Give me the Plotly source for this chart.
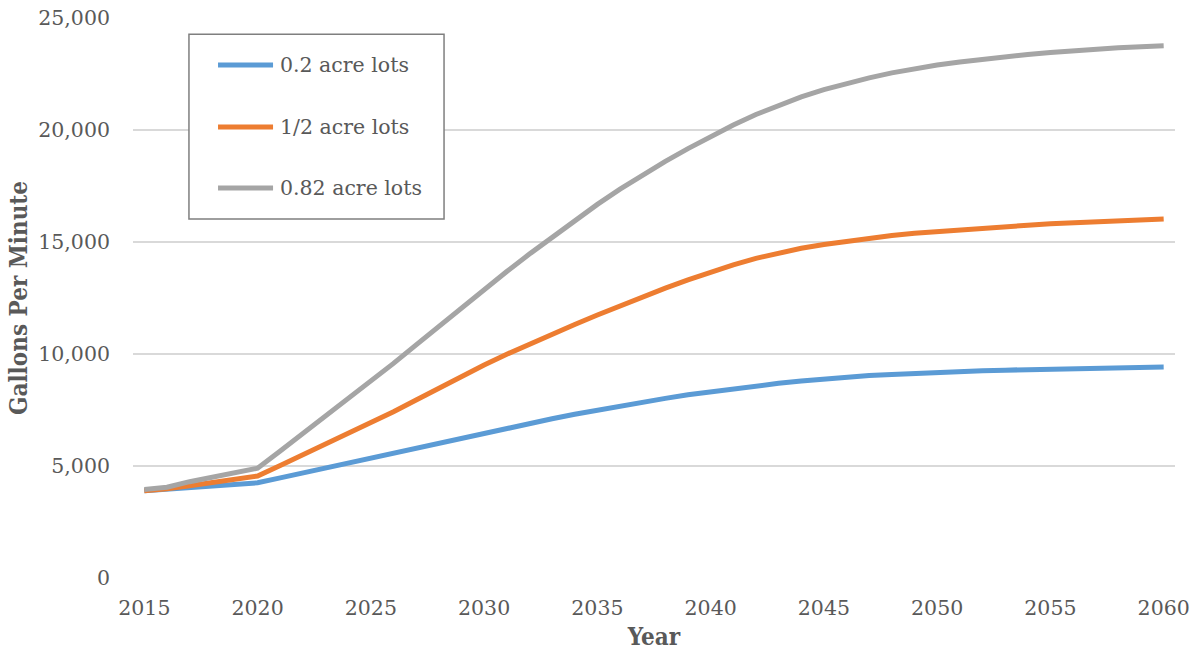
import plotly.graph_objects as go

# Projected demand, gallons per minute, by year
years = list(range(2015, 2061))

lots_02 = [3900, 3970, 4040, 4110, 4180, 4250, 4470, 4690, 4910, 5140,
           5370, 5600, 5830, 6050, 6270, 6490, 6700, 6910, 7110, 7310,
           7500, 7680, 7860, 8020, 8180, 8320, 8450, 8570, 8690, 8790,
           8890, 8970, 9040, 9090, 9140, 9180, 9220, 9250, 9280, 9300,
           9320, 9340, 9360, 9380, 9400, 9420]

lots_05 = [3900, 3980, 4120, 4260, 4400, 4550, 5020, 5490, 5960, 6430,
           6900, 7420, 7950, 8480, 9000, 9510, 9990, 10450, 10890, 11320,
           11740, 12150, 12550, 12940, 13310, 13660, 13980, 14270, 14520, 14720,
           14890, 15040, 15170, 15290, 15390, 15470, 15550, 15620, 15690, 15750,
           15810, 15860, 15910, 15950, 15990, 16030]

lots_082 = [3950, 4050, 4300, 4500, 4680, 4900, 5670, 6440, 7210, 7980,
            8750, 9580, 10410, 11240, 12060, 12880, 13680, 14460, 15220, 15960,
            16680, 17360, 18000, 18600, 19170, 19710, 20220, 20690, 21110, 21480,
            21800, 22080, 22330, 22550, 22740, 22900, 23040, 23160, 23270, 23370,
            23460, 23540, 23610, 23670, 23720, 23760]

series_names = ["0.2 acre lots", "1/2 acre lots", "0.82 acre lots"]
series_values = [lots_02, lots_05, lots_082]
series_colors = ["#5B9BD5", "#ED7D31", "#A5A5A5"]

x_ticks = list(range(2015, 2061, 5))
y_ticks = [0, 5000, 10000, 15000, 20000, 25000]

TEXT = "#595959"
FONT = "DejaVu Serif"
TITLE_FONT = "DejaVu Serif Condensed, DejaVu Serif"
FS = 20.5

fig = go.Figure()
for name, vals, col in zip(series_names, series_values, series_colors):
    fig.add_trace(go.Scatter(
        x=years, y=vals, name=name, mode="lines",
        line=dict(color=col, width=5),
        showlegend=False,
    ))

# Boxed legend in the upper-left corner of the plot
box_x0, box_x1 = 0.0537, 0.2985
box_y0, box_y1 = 0.641, 0.971
fig.add_shape(type="rect", xref="paper", yref="paper",
              x0=box_x0, x1=box_x1, y0=box_y0, y1=box_y1,
              line=dict(color="#7F7F7F", width=1.5), fillcolor="white")
row_y = [0.9161, 0.8054, 0.6964]
for name, col, ry in zip(series_names, series_colors, row_y):
    fig.add_shape(type="line", xref="paper", yref="paper",
                  x0=0.0816, x1=0.1344, y0=ry, y1=ry,
                  line=dict(color=col, width=5))
    fig.add_annotation(xref="paper", yref="paper", x=0.139, y=ry,
                       text=name, showarrow=False, xanchor="left",
                       yanchor="middle",
                       font=dict(family=FONT, size=FS, color=TEXT))

fig.update_layout(
    width=1196, height=651,
    margin=dict(l=133, r=21, t=18, b=73, autoexpand=False),
    paper_bgcolor="white", plot_bgcolor="white",
    font=dict(family=FONT, size=FS, color=TEXT),
    xaxis=dict(
        range=[2014.5, 2060.5], tickvals=x_ticks,
        showgrid=False, zeroline=False, showline=False, automargin=False,
        ticks="", ticklabelstandoff=15,
        tickfont=dict(family=FONT, size=FS, color=TEXT),
        title=dict(text="<b>Year</b>", standoff=10,
                   font=dict(family=TITLE_FONT, size=24, color=TEXT)),
    ),
    yaxis=dict(
        range=[0, 25000], tickvals=y_ticks, tickformat=",",
        showgrid=True, gridcolor="#D9D9D9", gridwidth=1.5,
        zeroline=False, showline=False, automargin=False,
        ticks="", ticklabelstandoff=22,
        tickfont=dict(family=FONT, size=FS, color=TEXT),
        title=dict(text="<b>Gallons Per Minute</b>", standoff=3,
                   font=dict(family=TITLE_FONT, size=24, color=TEXT)),
    ),
)

fig.write_html("out.html")
